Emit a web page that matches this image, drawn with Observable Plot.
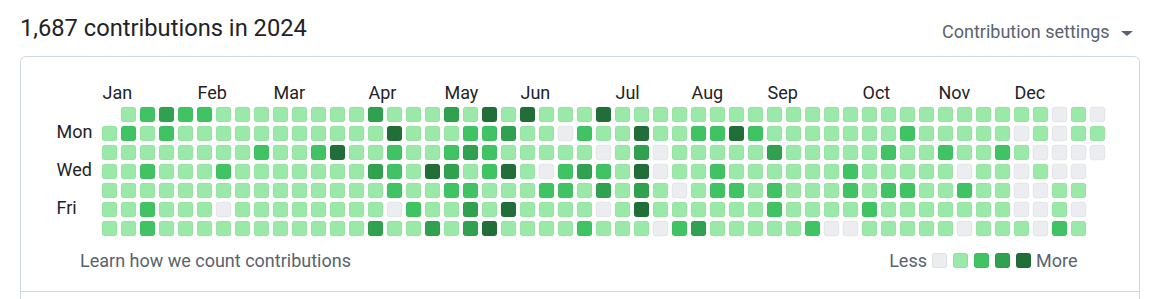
<!DOCTYPE html>
<html>
<head>
<meta charset="utf-8">
<script src="https://cdn.jsdelivr.net/npm/d3@7"></script>
<script src="https://cdn.jsdelivr.net/npm/@observablehq/plot@0.6"></script>
<style>
  html, body { margin: 0; padding: 0; background: #ffffff; overflow: hidden; width: 1159px; height: 299px; }
  body { font-family: Roboto, "Noto Sans", sans-serif; color: #1f2328; position: relative; }
  .abs { position: absolute; white-space: nowrap; }
  #title { left: 20px; top: 16px; font-size: 23.7px; line-height: 24px; color: #1f2328; }
  #settings { left: 942px; top: 23px; font-size: 18px; line-height: 18px; color: #59636e; }
  #caret { left: 1121px; top: 31px; width: 0; height: 0; border-left: 6px solid transparent; border-right: 6px solid transparent; border-top: 5px solid #59636e; }
  #box { left: 20px; top: 56px; width: 1118px; height: 400px; border: 1px solid #d1d9e0; border-radius: 6px; box-sizing: content-box; }
  #chart { left: 0px; top: 60px; }
  #learn { left: 80px; top: 252px; font-size: 18px; line-height: 18px; color: #59636e; }
  .legtext { top: 252px; font-size: 18px; line-height: 18px; color: #59636e; }
  #less { right: 232px; }
  #more { left: 1036px; }
  .sq { top: 253px; width: 15px; height: 15px; border-radius: 3px; box-sizing: border-box; border: 1px solid rgba(31,35,40,0.06); }
  #divider { left: 20px; top: 291px; width: 1120px; height: 1px; background: #d1d9e0; }
</style>
</head>
<body>
<div id="title" class="abs">1,687 contributions in 2024</div>
<div id="settings" class="abs">Contribution settings</div>
<div id="caret" class="abs"></div>
<div id="box" class="abs"></div>
<div id="chart" class="abs"></div>
<div id="learn" class="abs">Learn how we count contributions</div>
<div id="less" class="abs legtext"></div>
<div id="more" class="abs legtext"></div>
<div id="divider" class="abs"></div>
<script>
// ---- data ----
const year = 2024;
const monthNames = ["Jan","Feb","Mar","Apr","May","Jun","Jul","Aug","Sep","Oct","Nov","Dec"];
const dayNames = ["Sun","Mon","Tue","Wed","Thu","Fri","Sat"];
const labeledDays = [1, 3, 5];
const levelColors = ["#ebedf0", "#9be9a8", "#40c463", "#30a14e", "#216e39"];
const legendLabels = ["Less", "More"];

// contribution level (0-4) per week column, one array per weekday; null = outside 2024
const sun = [null,1,2,3,2,2,1,1,1,1, 1,1,1,1,3,1,1,1,3,1, 4,1,4,1,1,1,4,1,1,1, 1,1,1,1,1,1,1,1,1,1, 1,1,1,1,1,1,1,1,1,1, 0,1,0];
const mon = [1,2,1,2,1,1,1,1,1,1, 1,1,1,1,1,4,1,1,1,2, 2,3,1,1,0,2,1,1,4,1, 1,2,2,4,2,1,1,1,1,1, 1,1,2,1,1,1,1,1,0,1, 0,1,1];
const tue = [1,1,1,1,1,1,1,1,2,1, 1,2,4,1,1,2,1,1,2,3, 2,1,1,1,1,1,0,1,3,0, 1,1,1,1,1,3,1,1,1,1, 1,2,1,1,2,1,1,2,1,0, 0,0,0];
const wed = [1,1,2,1,1,1,2,1,1,1, 1,1,1,1,3,2,1,4,3,1, 2,4,1,0,2,3,2,1,4,0, 1,1,2,1,1,1,1,1,1,2, 1,1,1,1,1,0,1,1,0,1, 0,0,null];
const thu = [1,1,1,1,1,1,1,1,1,1, 1,1,1,1,1,2,1,1,2,2, 1,1,1,2,2,1,3,1,3,1, 0,1,2,2,1,2,1,1,1,2, 1,2,2,1,1,2,1,1,0,0, 1,1,null];
const fri = [1,1,2,1,1,1,0,1,1,1, 1,1,1,1,1,0,2,1,1,3, 1,4,1,1,1,1,0,1,4,1, 1,1,1,1,1,2,1,1,1,1, 2,1,1,1,1,1,1,1,0,0, 1,0,null];
const sat = [1,1,2,1,1,1,1,1,1,1, 1,1,1,1,3,1,1,3,1,3, 4,1,1,1,1,2,1,1,1,0, 2,3,1,1,1,1,1,2,0,0, 1,1,1,1,1,0,1,1,1,0, 2,1,null];
const weekdayRows = [sun, mon, tue, wed, thu, fri, sat];

// ---- build table ----
const offset = new Date(Date.UTC(year, 0, 1)).getUTCDay();
const cells = [];
weekdayRows.forEach((arr, day) => arr.forEach((level, week) => {
  if (level == null) return;
  const date = new Date(Date.UTC(year, 0, 1 + week * 7 + day - offset));
  cells.push({week, day, level, date});
}));
const nWeeks = d3.max(cells, c => c.week) + 1;
const byWeek = d3.group(cells, c => c.week);
const monthWeeks = [];
const monthLabel = new Map();
let prev = -1;
d3.range(nWeeks).forEach(w => {
  const m = d3.min(byWeek.get(w), c => c.date).getUTCMonth();
  if (m !== prev) { monthWeeks.push(w); monthLabel.set(w, monthNames[m]); }
  prev = m;
});

const chart = Plot.plot({
  width: 1159,
  height: 180,
  marginLeft: 100,
  marginRight: 52,
  marginTop: 45,
  marginBottom: 2,
  style: {fontFamily: "Roboto, 'Noto Sans', sans-serif", fontSize: "18px", color: "#1f2328", background: "transparent", overflow: "visible"},
  x: {type: "band", domain: d3.range(nWeeks), padding: 0, round: false, axis: null, label: null},
  y: {type: "band", domain: d3.range(7), padding: 0, round: false, axis: null, label: null},
  color: {type: "ordinal", domain: d3.range(levelColors.length), range: levelColors, legend: false},
  marks: [
    Plot.cell(cells, {x: "week", y: "day", fill: "level", inset: 2, rx: 3, stroke: "rgba(31,35,40,0.06)", strokeWidth: 1}),
    Plot.axisX({anchor: "top", label: null, ticks: monthWeeks, tickFormat: w => monthLabel.get(w), tickSize: 0, tickPadding: 7, textAnchor: "start", dx: -7.5, fontSize: 18}),
    Plot.axisY({anchor: "left", label: null, ticks: labeledDays, tickFormat: d => dayNames[d], tickSize: 0, tickPadding: 44, textAnchor: "start", dy: -1.5, fontSize: 18})
  ]
});
document.getElementById("chart").appendChild(chart);

// legend
document.getElementById("less").textContent = legendLabels[0];
document.getElementById("more").textContent = legendLabels[1];
levelColors.forEach((c, i) => {
  const s = document.createElement("div");
  s.className = "abs sq";
  s.style.background = c;
  s.style.left = (932 + 21 * i) + "px";
  document.body.appendChild(s);
});
</script>
</body>
</html>
